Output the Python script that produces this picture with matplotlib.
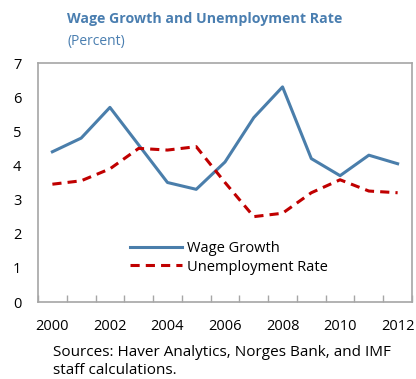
import numpy as np
import matplotlib.pyplot as plt

plt.rcParams['font.family'] = ['Open Sans', 'DejaVu Sans']

# Annual data, percent
years = np.arange(2000, 2013)
wage_growth = [4.4, 4.8, 5.7, 4.6, 3.5, 3.3, 4.1, 5.4, 6.3, 4.2, 3.7, 4.3, 4.05]
unemployment = [3.45, 3.55, 3.9, 4.5, 4.45, 4.55, 3.5, 2.5, 2.6, 3.2, 3.58, 3.25, 3.2]
tick_years = [2000, 2002, 2004, 2006, 2008, 2010, 2012]

blue = '#4a7eab'
red = '#c00000'
frame = '#a6a6a6'

fig = plt.figure(figsize=(4.16, 3.79), dpi=100)
ax = fig.add_axes([38/416, 1 - 302/379, 374/416, 239/379])

ax.plot(years, wage_growth, color=blue, lw=2.2, label='Wage Growth')
ax.plot(years, unemployment, color=red, lw=2.2, ls=(0, (3, 2)), label='Unemployment Rate')

ax.set_xlim(1999.5, 2012.5)
ax.set_ylim(0, 7)
ax.set_xticks(tick_years)
ax.set_xticks(np.arange(1999.5, 2013, 1), minor=True)
ax.tick_params(axis='x', which='major', length=0, pad=12, labelsize=10.5)
ax.tick_params(axis='x', which='minor', direction='in', length=5, color=frame, width=1)
ax.tick_params(axis='y', length=0, pad=12, labelsize=10.5)

for s in ax.spines.values():
    s.set_color(frame)
    s.set_linewidth(1.2)

ax.legend(loc='lower left', bbox_to_anchor=(0.21, 0.06), frameon=False,
          fontsize=10.5, handlelength=3.6, handletextpad=0.3, labelspacing=0.25)

fig.text(67/416, 1 - 19/379, 'Wage Growth and Unemployment Rate', color='#4a7eb0',
         fontsize=10.2, fontweight='bold', va='center')
fig.text(67/416, 1 - 42/379, '(Percent)', color='#4a7eb0', fontsize=10, va='center')
fig.text(53/416, 1 - 352/379, 'Sources: Haver Analytics, Norges Bank, and IMF',
         fontsize=11, va='center')
fig.text(53/416, 1 - 370/379, 'staff calculations.', fontsize=11, va='center')

fig.savefig('out.png', dpi=100)
